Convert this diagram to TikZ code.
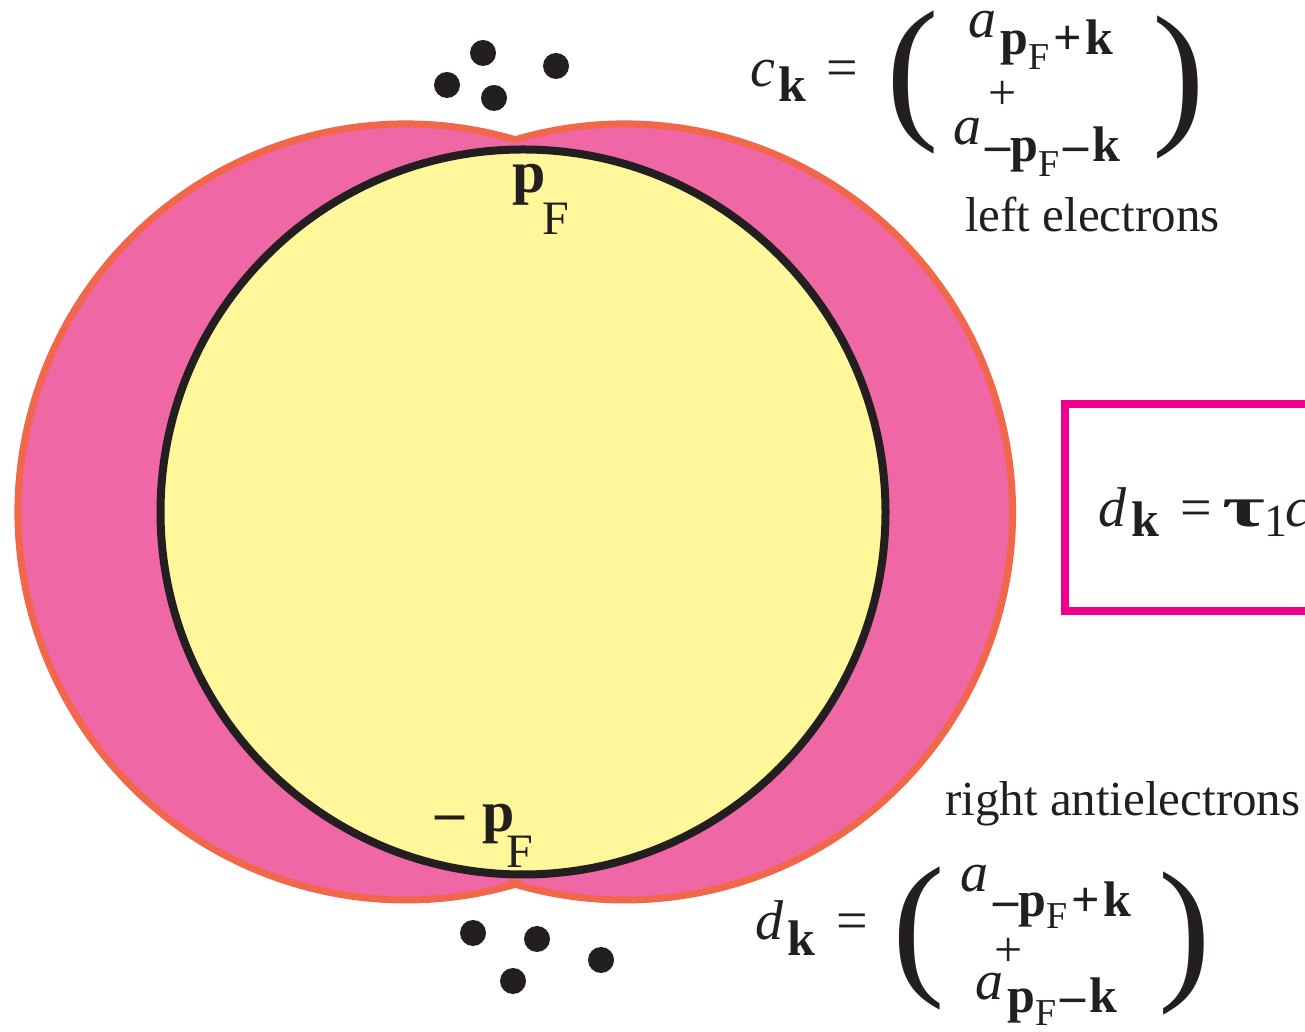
\documentclass[tikz,border=0pt]{standalone}
\usepackage{fontspec}
\setmainfont{Liberation Serif}
\usetikzlibrary{positioning}

\definecolor{lobepink}{HTML}{F067A6}
\definecolor{lobeedge}{HTML}{F26649}
\definecolor{seayellow}{HTML}{FFF799}
\definecolor{inkblack}{HTML}{231F20}
\definecolor{boxmagenta}{HTML}{EC008C}

\newcommand{\fsz}[1]{\fontsize{#1}{#1}\selectfont}
\newcommand{\bigit}[1]{{\fsz{56}\itshape #1}}
\newcommand{\subF}[1]{\raisebox{#1}{\fsz{38}\mdseries F}}
\newcommand{\op}[1]{\hspace{4pt}#1\hspace{4pt}}

\begin{document}
\begin{tikzpicture}[x=1pt, y=1pt,
  txt/.style={inner sep=0pt, anchor=base west, text=inkblack},
  sym/.style={inner sep=0pt, anchor=center, text=inkblack},
  subs/.style={txt, font=\fsz{50}\bfseries},
  edge/.style={draw=lobeedge, line width=7pt},
  fermi/.style={draw=inkblack, fill=seayellow, line width=8pt},
  particle/.style={fill=inkblack},
  paren/.style={sym, font=\fsz{158}}
]
\useasboundingbox (0,0) rectangle (1305,1032);

% the two shifted lobes
\fill[lobepink] (406,520) circle[radius=388];
\fill[lobepink] (624.5,520) circle[radius=388];
\draw[edge] (406,520) ++(73.64:388) arc[start angle=73.64, end angle=287.4, radius=388];
\draw[edge] (624.5,520) ++(106.36:388) arc[start angle=106.36, end angle=-107.4, radius=388];

% Fermi sphere
\draw[fermi] (523,520) circle[radius=362.5];

% particles near the points
\foreach \px/\py in {447/947, 483/979, 494/934, 556/966, 473/99, 537/93, 601/72, 513/51}
  \fill[particle] (\px,\py) circle[radius=13];

\node[txt] (pftop) at (512,839) {\fsz{60}\bfseries p};
\node[txt] (pftopF) at (542,797) {\fsz{48}F};
\node[txt] (mpfminus) at (435,200) {\fsz{58}\bfseries –};
\node[txt] (mpf) at (482,200) {\fsz{58}\bfseries p};
\node[txt] (mpfF) at (506,164) {\fsz{48}F};

% left electrons
\node[txt] (ctop) at (750,945) {\bigit{c}};
\node[subs] (cksub) at (778,930) {k};
\node[txt] (eqtop) at (826,945) {\fsz{56}=};
\node[paren] (lpartop) at (912.5,949.5) {(};
\node[paren] (rpartop) at (1179,944.5) {)};
\node[txt] (atopa) at (968,994) {\bigit{a}};
\node[subs] (atopasub) at (1000,977) {p\subF{-15pt}\op{+}k};
\node[sym] (daggertop) at (1002.5,937) {\fsz{50}+};
\node[txt] (atopb) at (953,887) {\bigit{a}};
\node[subs] (atopbsub) at (985,870) {–p\subF{-15pt}\op{–}k};
\node[txt] (leftel) at (965,800) {\fsz{49}left electrons};

% right antielectrons
\node[txt] (antiel) at (945,216) {\fsz{49}right antielectrons};
\node[txt] (dbot) at (755,92) {\bigit{d}};
\node[subs] (dksub) at (787,76) {k};
\node[txt] (eqbot) at (836,92) {\fsz{56}=};
\node[paren] (lparbot) at (918.5,93.5) {(};
\node[paren] (rparbot) at (1185,88.5) {)};
\node[txt] (abota) at (960,140) {\bigit{a}};
\node[subs] (abotasub) at (993,115) {–p\subF{-12pt}\op{+}k};
\node[sym] (daggerbot) at (1009,80) {\fsz{50}+};
\node[txt] (abotb) at (975,32) {\bigit{a}};
\node[subs] (abotbsub) at (1007,19) {p\subF{-13pt}\op{–}k};

% boxed relation, running off the page
\begin{scope}
  \clip (0,0) rectangle (1305,1032);
  \draw[boxmagenta, line width=8pt] (1065,628) rectangle (1420,421);
  \node[txt] (dbox) at (1098,505) {\bigit{d}};
  \node[subs] (dboxk) at (1131,495) {k};
  \node[txt] (dboxeq) at (1180,505) {\fsz{56}=};
  \node[txt] (tauone) at (1222,505) {\scalebox{1.6}[1]{\fsz{58}\bfseries τ}};
  \node[txt] (tauonesub) at (1264,495) {\fsz{46}1};
  \node[txt] (cbox) at (1285,505) {\bigit{c}};
\end{scope}
\end{tikzpicture}
\end{document}
